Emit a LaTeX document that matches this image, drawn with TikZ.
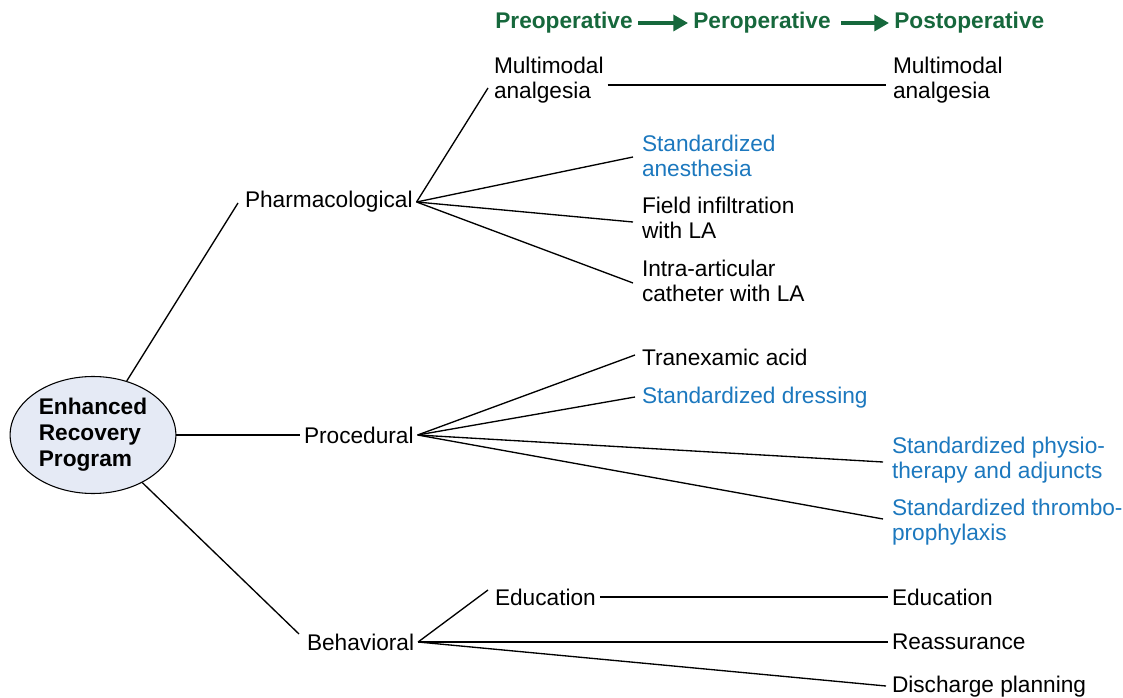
\documentclass[tikz,border=0pt]{standalone}
\usepackage{fontspec}
\setmainfont{Liberation Sans}
\usetikzlibrary{arrows.meta,calc,shapes.geometric}

\definecolor{phasegreen}{RGB}{22,104,60}
\definecolor{itemblue}{RGB}{28,120,190}
\definecolor{hubfill}{RGB}{229,234,245}

\begin{document}
\begin{tikzpicture}[x=0.75pt,y=-0.75pt,
  every node/.style={font=\fontsize{17}{18.8}\selectfont},
  item/.style={anchor=west, inner sep=0pt, outer sep=3pt, align=left},
  std/.style={item, text=itemblue},
  phase/.style={anchor=west, inner sep=0pt, outer sep=4pt, text=phasegreen, font=\fontsize{17}{18.8}\selectfont\bfseries},
  phasearrow/.style={draw=phasegreen, line width=2.5pt, -{Triangle[length=11pt,width=12pt]}},
  link/.style={draw, line width=1pt}]
\useasboundingbox (0,0) rectangle (1123,698);

% hub
\node[draw, ellipse, fill=hubfill, line width=0.8pt, minimum width=165*0.75pt, minimum height=117*0.75pt, align=left, font=\fontsize{17}{19.5}\selectfont\bfseries] (erp) at (93,435) {Enhanced\\Recovery\\Program};

% phases
\node[phase] (pre) at (490,23) {Preoperative};
\node[phase] (per) at (688,23) {Peroperative};
\node[phase] (post) at (889,23) {Postoperative};
\draw[phasearrow] (pre.east) -- (per.west);
\draw[phasearrow] ($(per.east)+(5,0)$) -- (post.west);

% main branches
\node[item] (pharm) at (241,202) {Pharmacological};
\node[item] (proc) at (300,435) {Procedural};
\node[item] (behav) at (303,642) {Behavioral};

% pharmacological
\node[item] (mma) at (490,80) {Multimodal\\analgesia};
\node[item] (mmb) at (889,80) {Multimodal\\analgesia};
\node[std] (anest) at (638,156) {Standardized\\anesthesia};
\node[item] (field) at (638,218) {Field infiltration\\with LA};
\node[item] (intra) at (638,281) {Intra-articular\\catheter with LA};

% procedural
\node[item] (tranex) at (638,357) {Tranexamic acid};
\node[std] (dress) at (638,398) {Standardized dressing};
\node[std] (physio) at (888,460) {Standardized physio-\\therapy and adjuncts};
\node[std] (thromb) at (888,522) {Standardized thrombo-\\prophylaxis};

% behavioral
\node[item] (edua) at (491,597) {Education};
\node[item] (edub) at (888,597) {Education};
\node[item] (reass) at (888,642) {Reassurance};
\node[item] (disch) at (888,687) {Discharge planning};

% connectors
\draw[link] (erp) -- ($(pharm.west)+(-3,1)$);
\draw[link] (erp) -- (proc.west);
\draw[link] (erp) -- ($(behav.west)+(-4,-8)$);

\draw[link] (pharm.east) -- ($(mma.west)+(-2,8)$);
\draw[link] (pharm.east) -- ($(anest.west)+(-5,1)$);
\draw[link] (pharm.east) -- ($(field.west)+(-5,4)$);
\draw[link] (pharm.east) -- ($(intra.west)+(-5,2)$);
\draw[link] ($(mma.east)+(0,5)$) -- ($(mmb.west)+(-3,5)$);

\draw[link] (proc.east) -- ($(tranex.west)+(-3,-2)$);
\draw[link] (proc.east) -- ($(dress.west)+(-3,-1)$);
\draw[link] (proc.east) -- ($(physio.west)+(-5,2)$);
\draw[link] (proc.east) -- ($(thromb.west)+(-5,-3)$);

\draw[link] (behav.east) -- ($(edua.west)+(-3,-7)$);
\draw[link] (edua.east) -- (edub.west);
\draw[link] (behav.east) -- (reass.west);
\draw[link] (behav.east) -- ($(disch.west)+(-2,-1)$);
\end{tikzpicture}
\end{document}
